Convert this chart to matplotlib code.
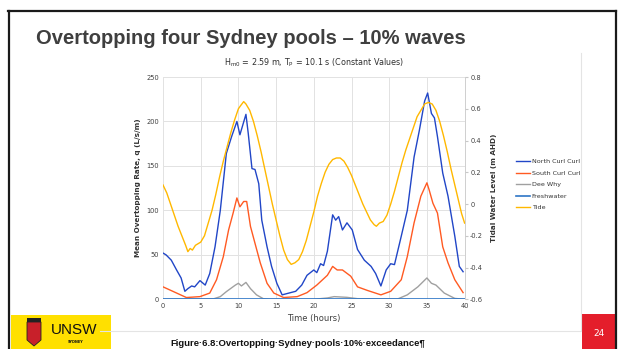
import matplotlib.pyplot as plt
from matplotlib.patches import Rectangle, Polygon

# Data (hours, L/s/m or m AHD)
north_t = [0, 0.4, 1.1, 1.8, 2.4, 2.9, 3.3, 3.8, 4.2, 4.9, 5.6, 6.2, 6.9, 7.6, 8.4, 9.1, 9.8, 10.2, 11.0, 11.3, 11.8, 12.2, 12.7, 13.1, 13.8, 14.4, 15.1, 15.8, 16.7, 17.6, 18.4, 19.1, 20.0, 20.4, 20.9, 21.3, 21.8, 22.5, 22.9, 23.3, 23.8, 24.4, 25.1, 25.8, 26.7, 27.6, 28.2, 28.9, 29.6, 30.2, 30.7, 31.6, 32.4, 33.3, 34.0, 34.7, 35.1, 35.6, 36.0, 36.4, 37.1, 37.8, 38.7, 39.3, 39.8]
north_q = [52, 50, 44, 33, 24, 9, 12, 15, 14, 21, 16, 29, 59, 100, 164, 183, 200, 185, 208, 187, 147, 146, 130, 89, 59, 37, 18, 5, 7, 9, 16, 27, 33, 30, 40, 38, 54, 95, 89, 93, 78, 86, 78, 56, 44, 37, 29, 15, 33, 40, 39, 71, 100, 160, 190, 223, 232, 209, 204, 183, 142, 116, 71, 37, 31]

south_t = [0, 1.3, 3.1, 4.9, 6.2, 7.1, 8.0, 8.7, 9.3, 9.8, 10.2, 10.7, 11.1, 11.6, 12.2, 12.9, 13.8, 14.7, 16.0, 17.8, 19.1, 20.4, 21.8, 22.5, 23.1, 23.8, 24.9, 25.8, 27.1, 28.9, 30.2, 31.6, 32.4, 33.3, 34.2, 35.0, 35.3, 35.8, 36.4, 37.1, 37.8, 38.7, 39.8]
south_q = [14, 9, 2, 3, 7, 22, 48, 78, 97, 114, 104, 110, 110, 82, 63, 41, 18, 7, 2, 3, 7.5, 16, 27, 37, 33, 33, 26, 14, 10, 5, 9, 22, 48, 86, 116, 131, 123, 108, 97, 59, 41, 22, 7.5]

deewhy_t = [0, 6.7, 7.6, 8.4, 9.6, 10.0, 10.4, 11.0, 11.6, 12.4, 13.3, 14.2, 20.0, 21.8, 22.7, 24.4, 25.8, 31.1, 32.4, 33.8, 35.0, 35.6, 36.2, 37.3, 38.7, 40.0]
deewhy_q = [0, 0.5, 3, 8.6, 16, 18, 15, 19, 12, 5, 0.7, 0, 0, 1.5, 3, 2.2, 0.7, 0.3, 5, 14, 24, 18, 16, 7, 1, 0]

fresh_t = [0, 10, 20, 30, 40]
fresh_q = [0.3, 0.3, 0.3, 0.3, 0.3]

tide_t = [0, 0.5, 1.0, 1.5, 2.0, 2.5, 3.0, 3.3, 3.6, 3.9, 4.3, 5.0, 5.5, 6.0, 6.5, 7.0, 7.5, 8.0, 8.5, 9.0, 9.5, 10.0, 10.3, 10.7, 11.0, 11.5, 12.0, 12.5, 13.0, 13.5, 14.0, 14.5, 15.0, 15.5, 16.0, 16.5, 17.0, 17.5, 18.0, 18.5, 19.0, 19.5, 20.0, 20.5, 21.0, 21.5, 22.0, 22.5, 23.0, 23.5, 24.0, 24.5, 25.0, 25.5, 26.0, 26.5, 27.0, 27.5, 28.0, 28.3, 28.7, 29.2, 29.7, 30.2, 30.7, 31.2, 31.7, 32.2, 32.7, 33.2, 33.7, 34.2, 34.7, 35.2, 35.7, 36.2, 36.7, 37.2, 37.7, 38.2, 38.7, 39.2, 39.6, 40.0]
tide_h = [0.12, 0.07, 0.0, -0.07, -0.14, -0.2, -0.26, -0.30, -0.28, -0.29, -0.26, -0.24, -0.2, -0.12, -0.04, 0.06, 0.17, 0.27, 0.36, 0.45, 0.53, 0.60, 0.62, 0.645, 0.63, 0.59, 0.52, 0.43, 0.33, 0.22, 0.11, 0.0, -0.1, -0.2, -0.29, -0.35, -0.38, -0.37, -0.35, -0.30, -0.23, -0.14, -0.05, 0.05, 0.13, 0.2, 0.25, 0.28, 0.29, 0.29, 0.27, 0.23, 0.18, 0.12, 0.06, 0.0, -0.05, -0.10, -0.13, -0.14, -0.12, -0.11, -0.07, 0.0, 0.08, 0.17, 0.26, 0.34, 0.41, 0.48, 0.55, 0.59, 0.63, 0.64, 0.63, 0.59, 0.52, 0.43, 0.33, 0.22, 0.12, 0.02, -0.06, -0.12]

series = ['North Curl Curl', 'South Curl Curl', 'Dee Why', 'Freshwater', 'Tide']
colors = ['#2146C7', '#FF5A22', '#A0A0A0', '#2E75C6', '#FFB800']

W, H = 618, 349
fig = plt.figure(figsize=(W / 100, H / 100), dpi=100)
fig.patch.set_facecolor('white')


def px(x, y):
    return x / W, 1 - y / H


# slide frame
fig.add_artist(plt.Line2D([8 / W, 616 / W], [1 - 10.5 / H] * 2, color='#1a1a1a', lw=1.6))
fig.add_artist(plt.Line2D([8.5 / W] * 2, [0, 1 - 10.5 / H], color='#1a1a1a', lw=1.6))
fig.add_artist(plt.Line2D([616 / W] * 2, [0, 1 - 10.5 / H], color='#1a1a1a', lw=1.6))
fig.add_artist(plt.Line2D([581 / W] * 2, [1 - 330 / H, 1 - 53 / H], color='#e4e4e4', lw=0.8))
fig.add_artist(plt.Line2D([100 / W, 581 / W], [1 - 331 / H] * 2, color='#e4e4e4', lw=0.8))

fig.text(*px(36, 38), 'Overtopping four Sydney pools \u2013 10% waves', fontsize=14.5,
         fontweight='bold', color='#3f3f3f', family='Liberation Sans', va='center', ha='left')

# page number box
fig.add_artist(Rectangle(px(582, 349), 34 / W, 35 / H, transform=fig.transFigure,
                         facecolor='#E41E2B', edgecolor='none'))
fig.text(*px(599, 333), '24', color='white', fontsize=6.5, ha='center', va='center')

# UNSW logo block
fig.add_artist(Rectangle(px(11, 349), 100 / W, 34 / H, transform=fig.transFigure,
                         facecolor='#FFE000', edgecolor='none'))
fig.add_artist(Polygon([px(27, 322), px(41, 322), px(41, 340), px(34, 346), px(27, 340)],
                       closed=True, transform=fig.transFigure, facecolor='#c8202a',
                       edgecolor='#222222', lw=0.6))
fig.add_artist(Rectangle(px(27, 322), 14 / W, 4 / H, transform=fig.transFigure,
                         facecolor='#222222', edgecolor='none'))
fig.text(*px(74, 330), 'UNSW', fontsize=11, color='#111111', ha='center', va='center',
         family='Liberation Sans')
fig.text(*px(76, 342), 'SYDNEY', fontsize=2.5, color='#111111', ha='center', va='center',
         fontweight='bold')

# caption at the bottom edge
fig.text(*px(298, 347.5), 'Figure\u00b76.8:Overtopping\u00b7Sydney\u00b7pools\u00b710%\u00b7exceedance\u00b6',
         fontsize=6.8, fontweight='bold', color='#111111', ha='center', va='bottom',
         family='Liberation Sans')

# chart
left, right, top, bottom = 163, 464.6, 77, 299.3
ax = fig.add_axes([left / W, 1 - bottom / H, (right - left) / W, (bottom - top) / H])
ax2 = ax.twinx()

ax.plot(north_t, north_q, color=colors[0], lw=1.0, label=series[0])
ax.plot(south_t, south_q, color=colors[1], lw=1.0, label=series[1])
ax.plot(deewhy_t, deewhy_q, color=colors[2], lw=1.0, label=series[2])
ax.plot(fresh_t, fresh_q, color=colors[3], lw=1.2, label=series[3])
ax2.plot(tide_t, tide_h, color=colors[4], lw=1.0, label=series[4])

ax.set_xlim(0, 40)
ax.set_ylim(0, 250)
ax2.set_ylim(-0.6, 0.8)
ax.set_xticks(range(0, 41, 5))
ax.set_yticks(range(0, 251, 50))
ax2.set_yticks([-0.6, -0.4, -0.2, 0, 0.2, 0.4, 0.6, 0.8])
ax2.set_yticklabels(['-0.6', '-0.4', '-0.2', '0', '0.2', '0.4', '0.6', '0.8'])
ax.grid(True, color='#e2e2e2', lw=0.7)
ax.set_axisbelow(True)
for a in (ax, ax2):
    for s in a.spines.values():
        s.set_visible(False)
    a.tick_params(labelsize=4.8, labelcolor='#404040', length=0, pad=3)
ax2.spines['right'].set_visible(True)
ax2.spines['right'].set_color('#c8c8c8')
ax2.spines['right'].set_linewidth(0.6)
ax2.tick_params(axis='y', length=2, color='#c8c8c8', direction='out', pad=2)

ax.set_xlabel('Time (hours)', fontsize=6, color='#404040', labelpad=3)
ax.set_ylabel('Mean Overtopping Rate, q (L/s/m)', fontsize=5.2, fontweight='bold',
              color='#333333', labelpad=4)
ax2.set_ylabel('Tidal Water Level (m AHD)', fontsize=5.2, fontweight='bold',
               color='#333333', labelpad=6)

fig.text(*px(314, 63), r'H$_{\mathrm{m0}}$ = 2.59 m, T$_{\mathrm{P}}$ = 10.1 s (Constant Values)',
         fontsize=5.8, color='#303030', ha='center', va='center')

h1, l1 = ax.get_legend_handles_labels()
h2, l2 = ax2.get_legend_handles_labels()
fig.legend(h1 + h2, l1 + l2, loc='upper left', bbox_to_anchor=px(510, 153),
           fontsize=4.6, frameon=False, handlelength=2.2, handletextpad=0.3,
           labelspacing=0.95, labelcolor='#333333')

fig.savefig('out.png', dpi=100)
